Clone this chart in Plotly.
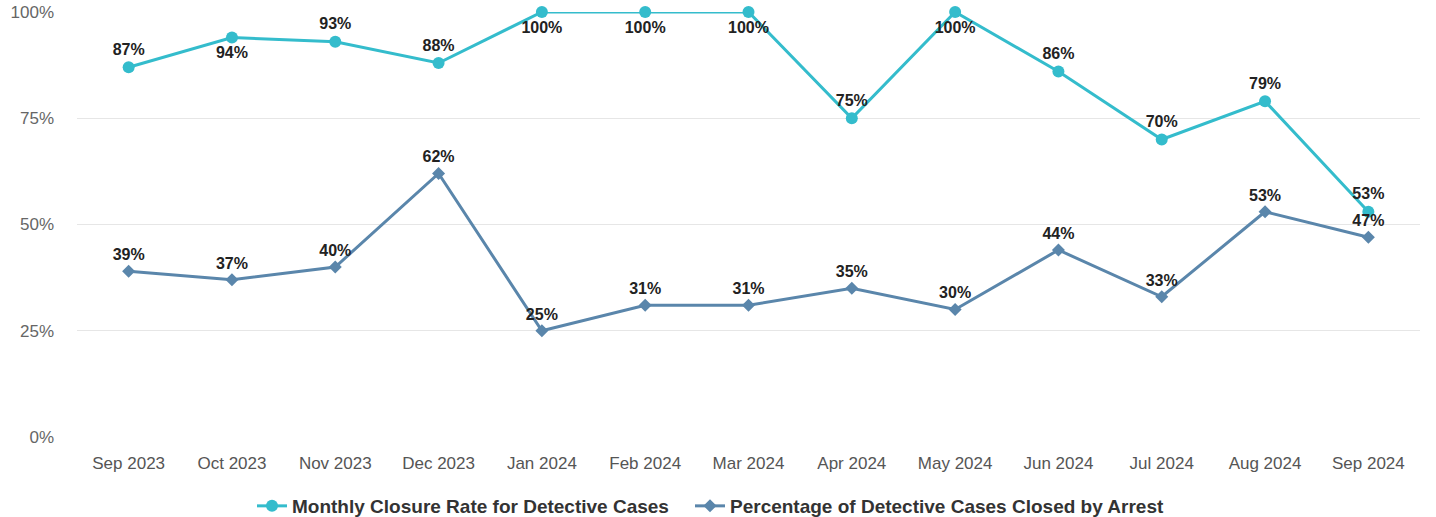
import plotly.graph_objects as go

months = ["Sep 2023", "Oct 2023", "Nov 2023", "Dec 2023", "Jan 2024", "Feb 2024",
          "Mar 2024", "Apr 2024", "May 2024", "Jun 2024", "Jul 2024", "Aug 2024", "Sep 2024"]
closure_rate = [87, 94, 93, 88, 100, 100, 100, 75, 100, 86, 70, 79, 53]
arrest_rate = [39, 37, 40, 62, 25, 31, 31, 35, 30, 44, 33, 53, 47]
closure_label_pos = ["top center", "bottom center", "top center", "top center",
                     "bottom center", "bottom center", "bottom center", "top center",
                     "bottom center", "top center", "top center", "top center", "top center"]
y_ticks = [0, 25, 50, 75, 100]
y_tick_labels = ["0%", "25%", "50%", "75%", "100%"]

CLOSURE_COLOR = "#34bccc"
ARREST_COLOR = "#5a86ab"
FONT = "Liberation Sans, Arial, sans-serif"
W, H = 1436, 517

fig = go.Figure()
fig.add_trace(go.Scatter(
    x=months, y=closure_rate, name="Monthly Closure Rate for Detective Cases",
    mode="lines+markers+text",
    line=dict(color=CLOSURE_COLOR, width=3),
    marker=dict(symbol="circle", size=12, color=CLOSURE_COLOR),
    text=[f"{v}%" for v in closure_rate], textposition=closure_label_pos,
    textfont=dict(family=FONT, size=16, color="#222222", weight="bold"),
    cliponaxis=False, legend="legend",
))
fig.add_trace(go.Scatter(
    x=months, y=arrest_rate, name="Percentage of Detective Cases Closed by Arrest",
    mode="lines+markers+text",
    line=dict(color=ARREST_COLOR, width=3),
    marker=dict(symbol="diamond", size=10, color=ARREST_COLOR),
    text=[f"{v}%" for v in arrest_rate], textposition="top center",
    textfont=dict(family=FONT, size=16, color="#222222", weight="bold"),
    cliponaxis=False, legend="legend2",
))

legend_style = dict(orientation="h", xref="container", xanchor="left",
                    yref="container", y=11 / H, yanchor="middle",
                    font=dict(family=FONT, size=19, color="#333333", weight="bold"),
                    itemwidth=30, bgcolor="rgba(0,0,0,0)")

fig.update_layout(
    width=W, height=H,
    margin=dict(l=77, r=16, t=12, b=80, autoexpand=False),
    paper_bgcolor="white", plot_bgcolor="white",
    font=dict(family=FONT, size=16, color="#555555"),
    showlegend=True,
    legend=dict(legend_style, x=252 / W),
    legend2=dict(legend_style, x=690 / W),
    xaxis=dict(range=[-0.5, 12.5], showgrid=False, zeroline=False, showline=False,
               ticks="", ticklabelstandoff=14, automargin=False,
               tickfont=dict(size=17, color="#555555")),
    yaxis=dict(range=[0, 100], tickvals=y_ticks, ticktext=y_tick_labels,
               showgrid=True, gridcolor="#e6e6e6", gridwidth=1, zeroline=False,
               showline=False, ticks="", ticklabelstandoff=22, automargin=False,
               tickfont=dict(size=17, color="#666666")),
)

fig.write_html("out.html")
